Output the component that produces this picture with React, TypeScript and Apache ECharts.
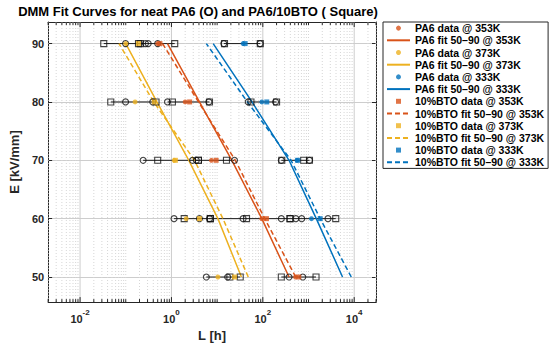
import React, { useEffect, useRef } from 'react';
import * as echarts from 'echarts';

// ---------- data ----------
const E_LEVELS = [50, 60, 70, 80, 90];
const X_MIN = 0.002;
const X_MAX = 30000;
const Y_MIN = 45.7;
const Y_MAX = 93.7;

// individual samples (black hollow markers), one list per E level
const pa6Samples353 = [[375, 750], [6.8, 37, 254], [3.5, 24], [0.82, 6.6], [0.31, 0.5]];
const btoSamples353 = [[254, 1460], [7.1, 44, 394], [3.9, 16], [1.05, 6.8], [0.21, 1.18]];
const pa6Samples373 = [[5.8, 17], [1.14, 4.1], [0.24, 2.9], [0.099, 0.39], [0.099, 0.27]];
const btoSamples373 = [[19, 32], [1.9, 7.1], [0.5, 3.9], [0.047, 0.46], [0.033, 0.19]];
const pa6Samples333 = [[], [528, 710, 2670], [254, 1050], [48, 190], [14, 87]];
const btoSamples333 = [[], [394, 3944], [260, 783, 1050], [55, 200], [14.5, 88]];

// coloured data markers
const pa6Data353 = [520, 95, 7.5, 2.0, 0.5];
const btoData353 = [613, 120, 9.5, 2.5, 0.56];
const pa6Data373 = [10.4, 2.1, 1.15, 0.16, 0.1];
const btoData373 = [24, 4.1, 1.22, 0.42, 0.19];
const pa6Data333 = [null, 1160, 560, 95, 37];
const btoData333 = [null, 1800, 580, 122, 41];

// fit curves
const fitPA6_353 = [375, 95, 21, 4.1, 0.82];
const fitBTO_353 = [525, 110, 25, 3.9, 0.64];
const fitPA6_373 = [34, 10.4, 2.4, 0.48, 0.1];
const fitBTO_373 = [48, 13.4, 3.2, 0.41, 0.071];
const fitPA6_333 = [5560, 1480, 375, 58, 8.2];
const fitBTO_333 = [8630, 1800, 415, 46, 5.8];

// log grid
const GRID_DECADES = [-3, -2, -1, 0, 1, 2, 3, 4];
const GRID_MULTS = [1, 2, 3, 4, 5, 6, 7, 8, 9];
const LABEL_DECADES = [-2, 0, 2, 4];

const FONT = 'Liberation Sans, Arial, Helvetica, sans-serif';
const C353 = '#D95319';
const C373 = '#EDB120';
const C333 = '#0072BD';
const SQUARE_ICON = 'path://M0,0L10,0L10,10L0,10Z';

export default function App() {
  const ref = useRef<HTMLDivElement>(null);
  useEffect(() => {
    document.body.style.margin = '0';
    const chart = echarts.init(ref.current!, null, { renderer: 'svg' });

    const groups = [
      { t: '353K', color: C353, pS: pa6Samples353, bS: btoSamples353, pD: pa6Data353, bD: btoData353, pF: fitPA6_353, bF: fitBTO_353 },
      { t: '373K', color: C373, pS: pa6Samples373, bS: btoSamples373, pD: pa6Data373, bD: btoData373, pF: fitPA6_373, bF: fitBTO_373 },
      { t: '333K', color: C333, pS: pa6Samples333, bS: btoSamples333, pD: pa6Data333, bD: btoData333, pF: fitPA6_333, bF: fitBTO_333 },
    ];

    const series: any[] = [];
    const legendData: any[] = [];

    // minor / major log grid lines and ticks
    const gridData: any[] = [];
    GRID_DECADES.forEach((d) => {
      GRID_MULTS.forEach((m) => {
        const v = m * Math.pow(10, d);
        if (v < X_MIN || v > X_MAX) return;
        const major = m === 1 && LABEL_DECADES.indexOf(d) >= 0 ? 1 : 0;
        gridData.push([v, 70, major]);
      });
    });
    series.push({
      type: 'custom',
      silent: true,
      z: 1,
      clip: false,
      encode: { x: 0, y: 1 },
      data: gridData,
      renderItem: (params: any, api: any) => {
        const v = api.value(0);
        const major = api.value(2) === 1;
        const top = api.coord([v, Y_MAX]);
        const bot = api.coord([v, Y_MIN]);
        const tl = major ? 5 : 3;
        return {
          type: 'group',
          children: [
            {
              type: 'line',
              shape: { x1: top[0], y1: top[1], x2: bot[0], y2: bot[1] },
              style: major
                ? { stroke: '#cdcdcd', lineWidth: 1 }
                : { stroke: '#d6d6d6', lineWidth: 1, lineDash: [1, 2] },
            },
            { type: 'line', shape: { x1: bot[0], y1: bot[1], x2: bot[0], y2: bot[1] - tl }, style: { stroke: '#262626', lineWidth: 1 } },
            { type: 'line', shape: { x1: top[0], y1: top[1], x2: top[0], y2: top[1] + tl }, style: { stroke: '#262626', lineWidth: 1 } },
          ],
        };
      },
    });

    // black range lines + hollow sample markers
    const circles: number[][] = [];
    const squares: number[][] = [];
    groups.forEach((g) => {
      E_LEVELS.forEach((e, i) => {
        const all = [...g.pS[i], ...g.bS[i]];
        g.pS[i].forEach((v) => circles.push([v, e]));
        g.bS[i].forEach((v) => squares.push([v, e]));
        if (all.length < 2) return;
        series.push({
          type: 'line',
          silent: true,
          z: 2,
          symbol: 'none',
          data: [[Math.min(...all), e], [Math.max(...all), e]],
          lineStyle: { color: '#1a1a1a', width: 1 },
        });
      });
    });
    series.push({
      type: 'scatter', silent: true, z: 3, symbol: 'circle', symbolSize: 6, data: circles,
      itemStyle: { color: 'rgba(0,0,0,0)', borderColor: '#111', borderWidth: 1.1 },
    });
    series.push({
      type: 'scatter', silent: true, z: 3, symbol: 'rect', symbolSize: 6, data: squares,
      itemStyle: { color: 'rgba(0,0,0,0)', borderColor: '#111', borderWidth: 1.1 },
    });

    const pushGroup = (mat: 'PA6' | '10%BTO', g: any) => {
      const isPA6 = mat === 'PA6';
      const dataVals = isPA6 ? g.pD : g.bD;
      const fitVals = isPA6 ? g.pF : g.bF;
      const dName = `${mat} data @ ${g.t}`;
      const fName = `${mat} fit 50\u201390 @ ${g.t}`;
      legendData.push(isPA6 ? { name: dName } : { name: dName, icon: SQUARE_ICON });
      legendData.push({ name: fName, itemStyle: { opacity: 0 } });
      series.push({
        name: dName,
        type: 'scatter',
        z: 4,
        symbol: isPA6 ? 'circle' : 'rect',
        symbolSize: 5,
        itemStyle: { color: g.color },
        data: E_LEVELS.map((e, i) => (dataVals[i] == null ? null : [dataVals[i], e])).filter((d) => d),
      });
      series.push({
        name: fName,
        type: 'line',
        z: 3,
        symbol: 'none',
        showSymbol: false,
        data: E_LEVELS.map((e, i) => [fitVals[i], e]),
        itemStyle: { color: g.color, opacity: 0 },
        lineStyle: { color: g.color, width: 1.5, opacity: 1, type: isPA6 ? 'solid' : [5, 3] },
      });
    };
    groups.forEach((g) => pushGroup('PA6', g));
    groups.forEach((g) => pushGroup('10%BTO', g));

    const option: any = {
      animation: false,
      title: {
        text: 'DMM Fit Curves for neat PA6 (O) and PA6/10BTO ( Square)',
        left: 198,
        top: 5,
        padding: 0,
        textAlign: 'center',
        textStyle: { fontFamily: FONT, fontSize: 13, fontWeight: 'bold', color: '#000' },
      },
      legend: {
        orient: 'vertical',
        left: 383,
        top: 22,
        padding: [0, 4, 0, 3],
        itemGap: 0,
        itemWidth: 23,
        itemHeight: 5,
        borderColor: '#262626',
        borderWidth: 1,
        backgroundColor: '#fff',
        data: legendData,
        textStyle: { fontFamily: FONT, fontSize: 10.5, fontWeight: 'bold', color: '#000', lineHeight: 12.2 },
      },
      grid: { left: 37, right: 174, top: 22, bottom: 43 },
      xAxis: [
        {
          type: 'log',
          logBase: 10,
          min: X_MIN,
          max: X_MAX,
          name: 'L [h]',
          nameLocation: 'middle',
          nameGap: 22,
          nameTextStyle: { fontFamily: FONT, fontSize: 13, fontWeight: 'bold', color: '#262626' },
          axisLine: { show: true, lineStyle: { color: '#262626', width: 1 } },
          axisTick: { show: false },
          splitLine: { show: false },
          axisLabel: {
            margin: 6,
            color: '#262626',
            showMinLabel: false,
            showMaxLabel: false,
            formatter: (v: number) => {
              const l = Math.log10(v);
              const e = Math.round(l);
              if (Math.abs(l - e) > 1e-6 || LABEL_DECADES.indexOf(e) < 0) return '';
              return `{b|10}{s|${e}}`;
            },
            rich: {
              b: { fontFamily: FONT, fontSize: 11, fontWeight: 'bold', color: '#262626', lineHeight: 16, verticalAlign: 'bottom' },
              s: { fontFamily: FONT, fontSize: 8, fontWeight: 'bold', color: '#262626', lineHeight: 8, verticalAlign: 'top' },
            },
          },
        },
        {
          type: 'log',
          logBase: 10,
          min: X_MIN,
          max: X_MAX,
          position: 'top',
          axisLine: { show: true, lineStyle: { color: '#262626', width: 1 } },
          axisTick: { show: false },
          axisLabel: { show: false },
          splitLine: { show: false },
        },
      ],
      yAxis: [
        {
          type: 'value',
          min: Y_MIN,
          max: Y_MAX,
          name: 'E [kV/mm]',
          nameLocation: 'middle',
          nameGap: 17,
          nameTextStyle: { fontFamily: FONT, fontSize: 13, fontWeight: 'bold', color: '#262626' },
          axisLine: { show: true, lineStyle: { color: '#262626', width: 1 } },
          axisTick: { show: true, inside: true, length: 4, lineStyle: { color: '#262626' } },
          splitLine: { show: true, lineStyle: { color: '#cdcdcd', width: 1 } },
          axisLabel: {
            margin: 4,
            fontFamily: FONT,
            fontSize: 11,
            fontWeight: 'bold',
            color: '#262626',
            formatter: (v: number) => (Math.abs(v % 10) < 1e-6 ? String(v) : ''),
          },
        },
        {
          type: 'value',
          min: Y_MIN,
          max: Y_MAX,
          position: 'right',
          axisLine: { show: true, lineStyle: { color: '#262626', width: 1 } },
          axisTick: { show: true, inside: true, length: 4, lineStyle: { color: '#262626' } },
          axisLabel: { show: false },
          splitLine: { show: false },
        },
      ],
      series,
    };
    chart.setOption(option);
    return () => chart.dispose();
  }, []);
  return <div ref={ref} style={{ width: 550, height: 347 }} />;
}
